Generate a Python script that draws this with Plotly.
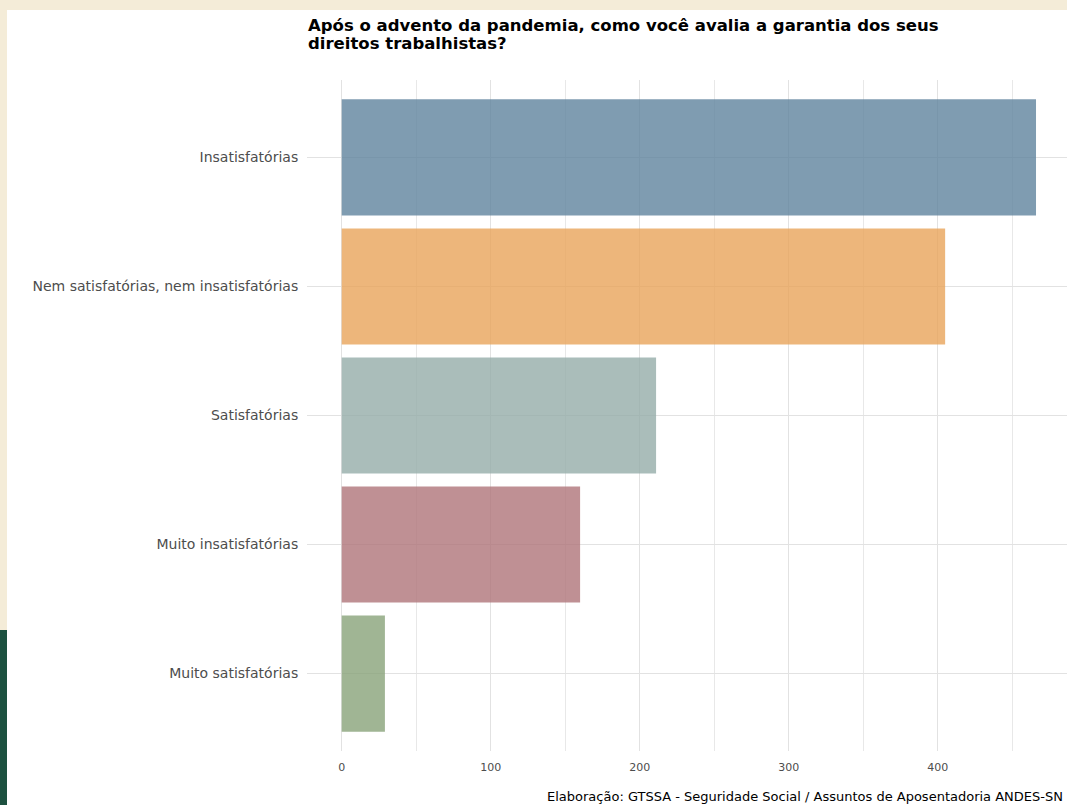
import plotly.graph_objects as go

categories = ["Muito satisfatórias", "Muito insatisfatórias", "Satisfatórias",
              "Nem satisfatórias, nem insatisfatórias", "Insatisfatórias"]
values = [29, 160, 211, 405, 466]
bar_colors = ["rgba(136,163,121,0.8)", "rgba(175,116,121,0.8)", "rgba(149,173,169,0.8)",
              "rgba(233,164,90,0.8)", "rgba(95,131,158,0.8)"]
x_ticks = [0, 100, 200, 300, 400]

title_line1 = "Após o advento da pandemia, como você avalia a garantia dos seus"
title_line2 = "direitos trabalhistas?"
caption = "Elaboração: GTSSA - Seguridade Social / Assuntos de Aposentadoria ANDES-SN"

W, H = 1067, 805
L, R, T, B = 307, 0, 80, 54
pw = W - L - R
ph = H - T - B


def px_x(px):
    return (px - L) / pw


def px_y(py):
    return (H - B - py) / ph


FONT = "DejaVu Sans"

fig = go.Figure(go.Bar(
    x=values, y=categories, orientation="h",
    marker=dict(color=bar_colors, line=dict(width=0)),
    width=0.9, showlegend=False, hoverinfo="x+y",
))

fig.update_layout(
    width=W, height=H,
    margin=dict(l=L, r=R, t=T, b=B, pad=0),
    paper_bgcolor="#F4ECD8",
    plot_bgcolor="white",
    font=dict(family=FONT),
    xaxis=dict(
        range=[-23.3, 486.8], tickvals=x_ticks, ticktext=[str(v) for v in x_ticks],
        showgrid=True, gridcolor="#E2E2E2", gridwidth=1.3,
        minor=dict(tickvals=[50, 150, 250, 350, 450], showgrid=True,
                   gridcolor="#E8E8E8", gridwidth=1, ticks=""),
        zeroline=False, showline=False,
        ticks="outside", ticklen=6, tickcolor="rgba(0,0,0,0)",
        tickfont=dict(family=FONT, size=11, color="#4D4D4D"),
    ),
    yaxis=dict(
        categoryorder="array", categoryarray=categories, range=[-0.6, 4.6],
        showgrid=True, gridcolor="#E2E2E2", gridwidth=1.3,
        zeroline=False, showline=False,
        ticks="outside", ticklen=5, tickcolor="rgba(0,0,0,0)",
        tickfont=dict(family=FONT, size=14, color="#4D4D4D"),
    ),
    shapes=[
        dict(type="rect", xref="paper", yref="paper", layer="below",
             x0=px_x(7), x1=px_x(1100), y0=px_y(10), y1=px_y(830),
             fillcolor="white", line=dict(width=0)),
        dict(type="rect", xref="paper", yref="paper", layer="below",
             x0=px_x(-5), x1=px_x(7), y0=px_y(630), y1=px_y(830),
             fillcolor="#1D5140", line=dict(width=0)),
    ],
    annotations=[
        dict(text=f"<b>{title_line1}</b>", xref="paper", yref="paper",
             x=px_x(306), y=px_y(26), xanchor="left", yanchor="middle",
             showarrow=False, font=dict(family=FONT, size=16.5, color="black")),
        dict(text=f"<b>{title_line2}</b>", xref="paper", yref="paper",
             x=px_x(306), y=px_y(43), xanchor="left", yanchor="middle",
             showarrow=False, font=dict(family=FONT, size=16.5, color="black")),
        dict(text=caption, xref="paper", yref="paper",
             x=px_x(545), y=px_y(796), xanchor="left", yanchor="middle",
             showarrow=False, font=dict(family=FONT, size=13, color="black")),
    ],
)

fig.write_html(
    "out.html",
    config={"displayModeBar": False},
    post_script="document.body.style.margin='0';document.body.style.overflow='hidden';",
)
